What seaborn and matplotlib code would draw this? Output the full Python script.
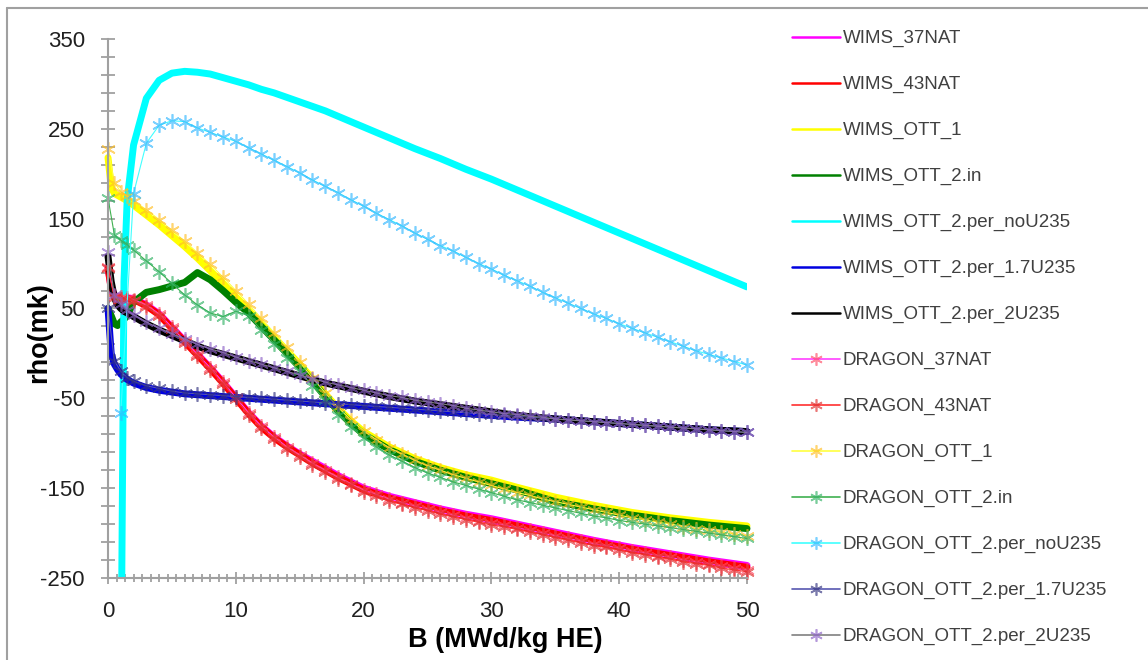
import numpy as np
import pandas as pd
import matplotlib
matplotlib.use("Agg")
import matplotlib.pyplot as plt
import seaborn as sns
from matplotlib.ticker import FixedLocator
from matplotlib.lines import Line2D

nan = np.nan

# ---------------- data ----------------
B_WIMS = [0, 0.25, 0.5, 0.75, 1, 1.25, 1.5, 2, 3, 4, 5, 6, 7, 8, 9, 10, 11, 12, 13, 14, 15,
          16, 17, 18, 19, 20, 22, 24, 26, 28, 30, 32, 35, 38, 41, 44, 47, 50]

WIMS_37NAT = [96, 73, 65, 63, 63, 63, 62,
              61, 54, 44, 29, 14, -1, -16, -32, -49, -66, -81, -93, -103, -112, -120, -128, -136, -143, -150,
              -159, -166, -173, -179, -184,
              -190, -199, -208, -216, -223, -230, -236]
WIMS_43NAT = [95, 72, 64, 62, 62, 62, 61,
              60, 53, 43, 28, 13, -2, -17, -33, -50, -67, -82, -94, -104, -113, -122, -130, -138, -145, -152,
              -161, -168, -175, -181, -186,
              -192, -201, -210, -218, -225, -232, -238]
WIMS_OTT_1 = [218, 185, 178, 176, 174, 172, 170,
              165, 154, 143, 131, 119, 106, 92, 78, 63, 48, 33, 18, 3, -12, -28, -45, -61, -75, -87,
              -104, -117, -127, -135, -141,
              -149, -160, -169, -177, -183, -188, -192]
WIMS_OTT_2_in = [50, 42, 33, 31, 35, 38, 42,
                 57, 68, 71, 75, 79, 90, 82, 70, 57, 45, 30, 15, 0, -15, -31, -48, -64, -78, -90,
                 -107, -120, -130, -138, -145,
                 -152, -165, -173, -180, -186, -191, -195]
WIMS_noU235 = [nan, nan, nan, nan, -400, 80, 171,
               232, 284, 304, 312, 314, 313, 311, 307, 303, 299, 294, 290, 285, 280, 275, 270, 264, 258, 252,
               240, 228, 217, 205, 194,
               182, 164, 146, 128, 110, 92, 74]
WIMS_1_7U235 = [50, 0, -12, -18, -23, -26, -29,
                -33, -38, -41, -43, -45, -46, -47, -48, -49, -50, -51, -52, -53, -54, -55, -56, -57, -58, -59,
                -61, -63, -65, -67, -69,
                -71, -73, -76, -79, -82, -85, -87]
WIMS_2U235 = [108, 80, 62, 54, 50, 47, 45,
              41, 33, 26, 20, 14, 8, 3, -1, -5, -9, -13, -17, -21, -25, -29, -33, -36, -39, -42,
              -48, -53, -57, -61, -65,
              -69, -73, -76, -79, -82, -85, -87]

B_DRAGON = [0, 0.5, 1, 1.5, 2, 3, 4, 5, 6, 7, 8, 9, 10, 11, 12, 13, 14, 15, 16, 17, 18, 19, 20,
            21, 22, 23, 24, 25, 26, 27, 28, 29, 30, 31, 32, 33, 34, 35, 36, 37, 38, 39, 40,
            41, 42, 43, 44, 45, 46, 47, 48, 49, 50]

DRAGON_37NAT = [96, 64, 63, 62,
                60, 54, 44, 29, 14, -1, -16, -32, -49,
                -66, -81, -93, -104, -113, -122, -130, -138, -145, -152,
                -157, -162, -166, -170, -173, -177, -180, -183, -186, -189,
                -191, -194, -197, -200, -203, -206, -209, -212, -214, -217,
                -220, -222, -225, -227, -230, -232, -234, -237, -239, -241]
DRAGON_43NAT = [95, 62, 61, 60,
                58, 52, 42, 27, 12, -3, -18, -34, -51,
                -68, -83, -95, -106, -115, -124, -132, -140, -147, -154,
                -159, -164, -168, -172, -175, -179, -182, -185, -188, -191,
                -193, -196, -199, -202, -205, -208, -211, -214, -216, -219,
                -222, -224, -227, -229, -232, -234, -236, -239, -241, -243]
DRAGON_OTT_1 = [228, 190, 180, 175,
                170, 160, 149, 137, 125, 112, 99, 85, 70,
                55, 39, 23, 7, -10, -27, -44, -60, -74, -86,
                -96, -105, -112, -119, -125, -130, -135, -139, -143, -147,
                -151, -155, -158, -162, -165, -168, -171, -174, -177, -180,
                -183, -185, -188, -190, -193, -195, -197, -199, -201, -203]
DRAGON_OTT_2_in = [173, 132, 126, 121,
                   115, 103, 91, 78, 65, 54, 45, 41, 47,
                   42, 26, 11, -5, -20, -36, -52, -68, -82, -94,
                   -104, -113, -120, -127, -133, -138, -143, -147, -151, -155,
                   -159, -163, -166, -169, -172, -175, -178, -181, -183, -186,
                   -188, -190, -192, -194, -196, -198, -200, -202, -204, -206]
DRAGON_noU235 = [nan, nan, -66, nan,
                 178, 234, 254, 259, 258, 251, 246, 241, 236,
                 229, 222, 215, 208, 201, 193, 186, 179, 171, 164,
                 156, 149, 142, 134, 127, 120, 114, 107, 100, 94,
                 87, 81, 75, 68, 62, 56, 50, 44, 39, 33,
                 28, 23, 18, 13, 8, 3, -1, -5, -9, -13]
DRAGON_1_7U235 = [50, -8, -20, -27,
                  -31, -36, -39, -42, -44, -45, -46, -47, -48,
                  -49, -50, -51, -52, -53, -54, -55, -56, -57, -58,
                  -59, -60, -61, -62, -63, -64, -65, -66, -67, -68,
                  -69, -70, -71, -72, -73, -74, -75, -76, -77, -78,
                  -79, -80, -81, -82, -83, -84, -85, -86, -87, -88]
DRAGON_2U235 = [113, 65, 55, 48,
                43, 35, 28, 22, 16, 10, 5, 1, -4,
                -8, -12, -16, -20, -24, -28, -32, -35, -38, -41,
                -44, -47, -49, -52, -54, -56, -58, -61, -63, -65,
                -67, -68, -70, -71, -73, -74, -75, -76, -77, -78,
                -79, -80, -81, -82, -83, -84, -85, -86, -87, -88]

X_TICKS = [0, 10, 20, 30, 40, 50]
Y_TICKS = [-250, -150, -50, 50, 150, 250, 350]

wims_series = [
    ("WIMS_37NAT", WIMS_37NAT, "#ff00ff"),
    ("WIMS_43NAT", WIMS_43NAT, "#ff0000"),
    ("WIMS_OTT_1", WIMS_OTT_1, "#ffff00"),
    ("WIMS_OTT_2.in", WIMS_OTT_2_in, "#008000"),
    ("WIMS_OTT_2.per_noU235", WIMS_noU235, "#00ffff"),
    ("WIMS_OTT_2.per_1.7U235", WIMS_1_7U235, "#0000e0"),
    ("WIMS_OTT_2.per_2U235", WIMS_2U235, "#000000"),
]
dragon_series = [
    ("DRAGON_37NAT", DRAGON_37NAT, "#ff40ff", (1.0, 0.30, 0.40)),
    ("DRAGON_43NAT", DRAGON_43NAT, "#ff3030", (0.88, 0.18, 0.18)),
    ("DRAGON_OTT_1", DRAGON_OTT_1, "#ffff40", (1.0, 0.75, 0.15)),
    ("DRAGON_OTT_2.in", DRAGON_OTT_2_in, "#40b050", (0.20, 0.70, 0.40)),
    ("DRAGON_OTT_2.per_noU235", DRAGON_noU235, "#40ffff", (0.20, 0.72, 1.0)),
    ("DRAGON_OTT_2.per_1.7U235", DRAGON_1_7U235, "#5858b0", (0.20, 0.20, 0.50)),
    ("DRAGON_OTT_2.per_2U235", DRAGON_2U235, "#808080", (0.55, 0.38, 0.78)),
]

# ---------------- style ----------------
sns.set_theme(style="white")
plt.rcParams['font.family'] = ['Liberation Sans', 'DejaVu Sans']
plt.rcParams['axes.unicode_minus'] = False

W, H = 1148, 660
fig = plt.figure(figsize=(W / 100, H / 100), dpi=100)
ax = fig.add_axes([108 / W, 82 / H, 639 / W, 539 / H])

for name, vals, col in wims_series:
    df = pd.DataFrame({"B": B_WIMS, "rho": vals})
    sns.lineplot(data=df, x="B", y="rho", ax=ax, color=col, lw=5, label=name,
                 estimator=None, sort=False, solid_capstyle="round",
                 solid_joinstyle="round", clip_on=(name == "WIMS_OTT_2.per_noU235"))

for name, vals, lcol, mcol in dragon_series:
    df = pd.DataFrame({"B": B_DRAGON, "rho": vals})
    sns.lineplot(data=df, x="B", y="rho", ax=ax, color=lcol, lw=0.8, label=name,
                 estimator=None, sort=False, marker=(6, 2, 0), markersize=10.5,
                 markeredgewidth=1.2, markeredgecolor=mcol + (0.65,),
                 markerfacecolor="none", clip_on=False)

ax.set_xlim(0, 50)
ax.set_ylim(-250, 350)
ax.set_xticks(X_TICKS)
ax.set_yticks(Y_TICKS)
ax.xaxis.set_minor_locator(FixedLocator(np.arange(0, 50.01, 10 / 15)))
ax.yaxis.set_minor_locator(FixedLocator(np.arange(-250, 351, 20)))

for s in ("top", "right"):
    ax.spines[s].set_visible(False)
for s in ("left", "bottom"):
    ax.spines[s].set_color("#a0a0a0")
    ax.spines[s].set_linewidth(1.5)

ax.tick_params(axis="both", which="both", direction="inout", color="#909090",
               width=1.1, labelcolor="#202020", labelsize=16,
               bottom=True, left=True, top=False, right=False)
ax.tick_params(axis="y", which="both", length=9.5, pad=12)
ax.tick_params(axis="x", which="major", length=9, pad=12)
ax.tick_params(axis="x", which="minor", length=6)

ax.set_xlabel("")
ax.set_ylabel("")
fig.text(505 / W, 1 - 640 / H, "B (MWd/kg HE)", ha="center", va="center",
         fontsize=19.5, fontweight="bold", color="#000000")
fig.text(39 / W, 1 - 333 / H, "rho(mk)", ha="center", va="center", rotation=90,
         fontsize=19.5, fontweight="bold", color="#000000")

handles, labels = ax.get_legend_handles_labels()
leg = ax.legend(handles, labels, loc="upper left", bbox_to_anchor=(792 / W, 1 - 30 / H),
                bbox_transform=fig.transFigure, frameon=False, fontsize=13.5,
                labelspacing=1.53, handlelength=2.55, handletextpad=0.16,
                borderpad=0, borderaxespad=0)
for i, ln in enumerate(leg.get_lines()):
    ln.set_linewidth(1.8 if i < 7 else 1.2)
    if i >= 7:
        ln.set_markersize(9)
for t in leg.get_texts():
    t.set_color("#404040")

# outer frame (cut off at right and bottom like the reference)
fig.add_artist(Line2D([7 / W, 7 / W], [0, 1 - 8 / H], transform=fig.transFigure,
                      color="#a0a0a0", lw=1.5))
fig.add_artist(Line2D([7 / W, 1], [1 - 8 / H, 1 - 8 / H], transform=fig.transFigure,
                      color="#a0a0a0", lw=1.5))

fig.savefig("out.png", dpi=100)
